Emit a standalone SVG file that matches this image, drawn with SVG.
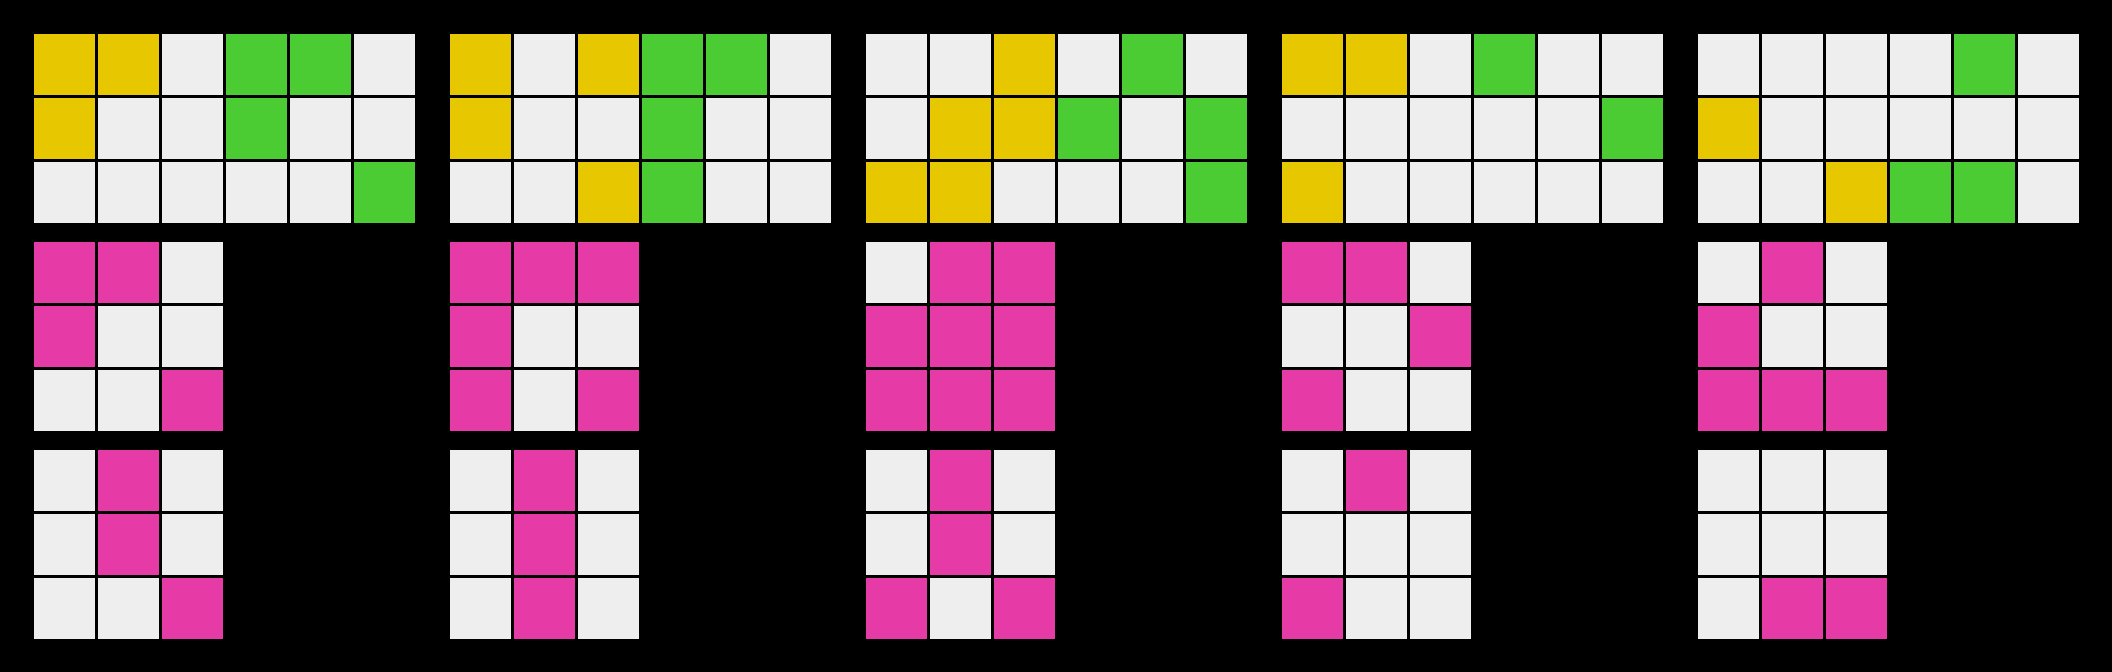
<svg xmlns="http://www.w3.org/2000/svg" width="2112" height="672" viewBox="0 0 2112 672">
<style>
rect.c{width:61px;height:61px}
.w{fill:#eeeeee}.y{fill:#e6c700}.g{fill:#4ccc33}.p{fill:#e63aa6}
</style>
<rect x="0" y="0" width="2112" height="672" fill="#000000"/>
<g id="grid1-top">
<rect class="c y" x="34" y="34" width="61" height="61"/><rect class="c y" x="98" y="34" width="61" height="61"/><rect class="c w" x="162" y="34" width="61" height="61"/><rect class="c g" x="226" y="34" width="61" height="61"/><rect class="c g" x="290" y="34" width="61" height="61"/><rect class="c w" x="354" y="34" width="61" height="61"/>
<rect class="c y" x="34" y="98" width="61" height="61"/><rect class="c w" x="98" y="98" width="61" height="61"/><rect class="c w" x="162" y="98" width="61" height="61"/><rect class="c g" x="226" y="98" width="61" height="61"/><rect class="c w" x="290" y="98" width="61" height="61"/><rect class="c w" x="354" y="98" width="61" height="61"/>
<rect class="c w" x="34" y="162" width="61" height="61"/><rect class="c w" x="98" y="162" width="61" height="61"/><rect class="c w" x="162" y="162" width="61" height="61"/><rect class="c w" x="226" y="162" width="61" height="61"/><rect class="c w" x="290" y="162" width="61" height="61"/><rect class="c g" x="354" y="162" width="61" height="61"/>
</g>
<g id="grid1-mid">
<rect class="c p" x="34" y="242" width="61" height="61"/><rect class="c p" x="98" y="242" width="61" height="61"/><rect class="c w" x="162" y="242" width="61" height="61"/>
<rect class="c p" x="34" y="306" width="61" height="61"/><rect class="c w" x="98" y="306" width="61" height="61"/><rect class="c w" x="162" y="306" width="61" height="61"/>
<rect class="c w" x="34" y="370" width="61" height="61"/><rect class="c w" x="98" y="370" width="61" height="61"/><rect class="c p" x="162" y="370" width="61" height="61"/>
</g>
<g id="grid1-bot">
<rect class="c w" x="34" y="450" width="61" height="61"/><rect class="c p" x="98" y="450" width="61" height="61"/><rect class="c w" x="162" y="450" width="61" height="61"/>
<rect class="c w" x="34" y="514" width="61" height="61"/><rect class="c p" x="98" y="514" width="61" height="61"/><rect class="c w" x="162" y="514" width="61" height="61"/>
<rect class="c w" x="34" y="578" width="61" height="61"/><rect class="c w" x="98" y="578" width="61" height="61"/><rect class="c p" x="162" y="578" width="61" height="61"/>
</g>
<g id="grid2-top">
<rect class="c y" x="450" y="34" width="61" height="61"/><rect class="c w" x="514" y="34" width="61" height="61"/><rect class="c y" x="578" y="34" width="61" height="61"/><rect class="c g" x="642" y="34" width="61" height="61"/><rect class="c g" x="706" y="34" width="61" height="61"/><rect class="c w" x="770" y="34" width="61" height="61"/>
<rect class="c y" x="450" y="98" width="61" height="61"/><rect class="c w" x="514" y="98" width="61" height="61"/><rect class="c w" x="578" y="98" width="61" height="61"/><rect class="c g" x="642" y="98" width="61" height="61"/><rect class="c w" x="706" y="98" width="61" height="61"/><rect class="c w" x="770" y="98" width="61" height="61"/>
<rect class="c w" x="450" y="162" width="61" height="61"/><rect class="c w" x="514" y="162" width="61" height="61"/><rect class="c y" x="578" y="162" width="61" height="61"/><rect class="c g" x="642" y="162" width="61" height="61"/><rect class="c w" x="706" y="162" width="61" height="61"/><rect class="c w" x="770" y="162" width="61" height="61"/>
</g>
<g id="grid2-mid">
<rect class="c p" x="450" y="242" width="61" height="61"/><rect class="c p" x="514" y="242" width="61" height="61"/><rect class="c p" x="578" y="242" width="61" height="61"/>
<rect class="c p" x="450" y="306" width="61" height="61"/><rect class="c w" x="514" y="306" width="61" height="61"/><rect class="c w" x="578" y="306" width="61" height="61"/>
<rect class="c p" x="450" y="370" width="61" height="61"/><rect class="c w" x="514" y="370" width="61" height="61"/><rect class="c p" x="578" y="370" width="61" height="61"/>
</g>
<g id="grid2-bot">
<rect class="c w" x="450" y="450" width="61" height="61"/><rect class="c p" x="514" y="450" width="61" height="61"/><rect class="c w" x="578" y="450" width="61" height="61"/>
<rect class="c w" x="450" y="514" width="61" height="61"/><rect class="c p" x="514" y="514" width="61" height="61"/><rect class="c w" x="578" y="514" width="61" height="61"/>
<rect class="c w" x="450" y="578" width="61" height="61"/><rect class="c p" x="514" y="578" width="61" height="61"/><rect class="c w" x="578" y="578" width="61" height="61"/>
</g>
<g id="grid3-top">
<rect class="c w" x="866" y="34" width="61" height="61"/><rect class="c w" x="930" y="34" width="61" height="61"/><rect class="c y" x="994" y="34" width="61" height="61"/><rect class="c w" x="1058" y="34" width="61" height="61"/><rect class="c g" x="1122" y="34" width="61" height="61"/><rect class="c w" x="1186" y="34" width="61" height="61"/>
<rect class="c w" x="866" y="98" width="61" height="61"/><rect class="c y" x="930" y="98" width="61" height="61"/><rect class="c y" x="994" y="98" width="61" height="61"/><rect class="c g" x="1058" y="98" width="61" height="61"/><rect class="c w" x="1122" y="98" width="61" height="61"/><rect class="c g" x="1186" y="98" width="61" height="61"/>
<rect class="c y" x="866" y="162" width="61" height="61"/><rect class="c y" x="930" y="162" width="61" height="61"/><rect class="c w" x="994" y="162" width="61" height="61"/><rect class="c w" x="1058" y="162" width="61" height="61"/><rect class="c w" x="1122" y="162" width="61" height="61"/><rect class="c g" x="1186" y="162" width="61" height="61"/>
</g>
<g id="grid3-mid">
<rect class="c w" x="866" y="242" width="61" height="61"/><rect class="c p" x="930" y="242" width="61" height="61"/><rect class="c p" x="994" y="242" width="61" height="61"/>
<rect class="c p" x="866" y="306" width="61" height="61"/><rect class="c p" x="930" y="306" width="61" height="61"/><rect class="c p" x="994" y="306" width="61" height="61"/>
<rect class="c p" x="866" y="370" width="61" height="61"/><rect class="c p" x="930" y="370" width="61" height="61"/><rect class="c p" x="994" y="370" width="61" height="61"/>
</g>
<g id="grid3-bot">
<rect class="c w" x="866" y="450" width="61" height="61"/><rect class="c p" x="930" y="450" width="61" height="61"/><rect class="c w" x="994" y="450" width="61" height="61"/>
<rect class="c w" x="866" y="514" width="61" height="61"/><rect class="c p" x="930" y="514" width="61" height="61"/><rect class="c w" x="994" y="514" width="61" height="61"/>
<rect class="c p" x="866" y="578" width="61" height="61"/><rect class="c w" x="930" y="578" width="61" height="61"/><rect class="c p" x="994" y="578" width="61" height="61"/>
</g>
<g id="grid4-top">
<rect class="c y" x="1282" y="34" width="61" height="61"/><rect class="c y" x="1346" y="34" width="61" height="61"/><rect class="c w" x="1410" y="34" width="61" height="61"/><rect class="c g" x="1474" y="34" width="61" height="61"/><rect class="c w" x="1538" y="34" width="61" height="61"/><rect class="c w" x="1602" y="34" width="61" height="61"/>
<rect class="c w" x="1282" y="98" width="61" height="61"/><rect class="c w" x="1346" y="98" width="61" height="61"/><rect class="c w" x="1410" y="98" width="61" height="61"/><rect class="c w" x="1474" y="98" width="61" height="61"/><rect class="c w" x="1538" y="98" width="61" height="61"/><rect class="c g" x="1602" y="98" width="61" height="61"/>
<rect class="c y" x="1282" y="162" width="61" height="61"/><rect class="c w" x="1346" y="162" width="61" height="61"/><rect class="c w" x="1410" y="162" width="61" height="61"/><rect class="c w" x="1474" y="162" width="61" height="61"/><rect class="c w" x="1538" y="162" width="61" height="61"/><rect class="c w" x="1602" y="162" width="61" height="61"/>
</g>
<g id="grid4-mid">
<rect class="c p" x="1282" y="242" width="61" height="61"/><rect class="c p" x="1346" y="242" width="61" height="61"/><rect class="c w" x="1410" y="242" width="61" height="61"/>
<rect class="c w" x="1282" y="306" width="61" height="61"/><rect class="c w" x="1346" y="306" width="61" height="61"/><rect class="c p" x="1410" y="306" width="61" height="61"/>
<rect class="c p" x="1282" y="370" width="61" height="61"/><rect class="c w" x="1346" y="370" width="61" height="61"/><rect class="c w" x="1410" y="370" width="61" height="61"/>
</g>
<g id="grid4-bot">
<rect class="c w" x="1282" y="450" width="61" height="61"/><rect class="c p" x="1346" y="450" width="61" height="61"/><rect class="c w" x="1410" y="450" width="61" height="61"/>
<rect class="c w" x="1282" y="514" width="61" height="61"/><rect class="c w" x="1346" y="514" width="61" height="61"/><rect class="c w" x="1410" y="514" width="61" height="61"/>
<rect class="c p" x="1282" y="578" width="61" height="61"/><rect class="c w" x="1346" y="578" width="61" height="61"/><rect class="c w" x="1410" y="578" width="61" height="61"/>
</g>
<g id="grid5-top">
<rect class="c w" x="1698" y="34" width="61" height="61"/><rect class="c w" x="1762" y="34" width="61" height="61"/><rect class="c w" x="1826" y="34" width="61" height="61"/><rect class="c w" x="1890" y="34" width="61" height="61"/><rect class="c g" x="1954" y="34" width="61" height="61"/><rect class="c w" x="2018" y="34" width="61" height="61"/>
<rect class="c y" x="1698" y="98" width="61" height="61"/><rect class="c w" x="1762" y="98" width="61" height="61"/><rect class="c w" x="1826" y="98" width="61" height="61"/><rect class="c w" x="1890" y="98" width="61" height="61"/><rect class="c w" x="1954" y="98" width="61" height="61"/><rect class="c w" x="2018" y="98" width="61" height="61"/>
<rect class="c w" x="1698" y="162" width="61" height="61"/><rect class="c w" x="1762" y="162" width="61" height="61"/><rect class="c y" x="1826" y="162" width="61" height="61"/><rect class="c g" x="1890" y="162" width="61" height="61"/><rect class="c g" x="1954" y="162" width="61" height="61"/><rect class="c w" x="2018" y="162" width="61" height="61"/>
</g>
<g id="grid5-mid">
<rect class="c w" x="1698" y="242" width="61" height="61"/><rect class="c p" x="1762" y="242" width="61" height="61"/><rect class="c w" x="1826" y="242" width="61" height="61"/>
<rect class="c p" x="1698" y="306" width="61" height="61"/><rect class="c w" x="1762" y="306" width="61" height="61"/><rect class="c w" x="1826" y="306" width="61" height="61"/>
<rect class="c p" x="1698" y="370" width="61" height="61"/><rect class="c p" x="1762" y="370" width="61" height="61"/><rect class="c p" x="1826" y="370" width="61" height="61"/>
</g>
<g id="grid5-bot">
<rect class="c w" x="1698" y="450" width="61" height="61"/><rect class="c w" x="1762" y="450" width="61" height="61"/><rect class="c w" x="1826" y="450" width="61" height="61"/>
<rect class="c w" x="1698" y="514" width="61" height="61"/><rect class="c w" x="1762" y="514" width="61" height="61"/><rect class="c w" x="1826" y="514" width="61" height="61"/>
<rect class="c w" x="1698" y="578" width="61" height="61"/><rect class="c p" x="1762" y="578" width="61" height="61"/><rect class="c p" x="1826" y="578" width="61" height="61"/>
</g>
<g id="connectors"/>
</svg>
